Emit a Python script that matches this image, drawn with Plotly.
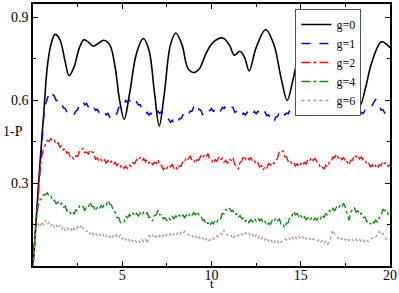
import plotly.graph_objects as go

# time grid for the noisy series (step 0.1 from 0 to 20)
t_grid = [round(i * 0.1, 1) for i in range(201)]

# g=0 : smooth curve (key points)
t_g0 = [0, 0.2, 0.4, 0.6, 0.8, 1.0, 1.24, 1.5, 1.8, 2.02, 2.3, 2.6, 2.85, 3.1, 3.37, 3.65, 3.96,
        4.3, 4.6, 4.85, 5.11, 5.4, 5.8, 6.18, 6.5, 6.8, 7.07, 7.35, 7.7, 8.0, 8.35, 8.68, 9.0,
        9.33, 9.7, 10.1, 10.63, 11.0, 11.28, 11.59, 11.85, 12.11, 12.5, 13.04, 13.5, 13.9, 14.24,
        14.55, 14.85, 15.3, 16.0, 16.7, 17.3, 17.94, 18.31, 18.65, 18.96, 19.52, 20.0]
g0 = [0, 0.19, 0.38, 0.55, 0.72, 0.80, 0.838, 0.82, 0.74, 0.689, 0.72, 0.79, 0.819, 0.81, 0.795,
      0.805, 0.817, 0.80, 0.72, 0.60, 0.531, 0.62, 0.77, 0.823, 0.78, 0.63, 0.507, 0.62, 0.80,
      0.843, 0.80, 0.715, 0.70, 0.715, 0.77, 0.81, 0.825, 0.80, 0.763, 0.777, 0.755, 0.706, 0.79,
      0.856, 0.80, 0.68, 0.599, 0.67, 0.751, 0.81, 0.84, 0.83, 0.77, 0.657, 0.579, 0.65, 0.733,
      0.811, 0.79]

g1 = [0.000, 0.090, 0.180, 0.280, 0.380, 0.470, 0.540, 0.585, 0.605, 0.625,
      0.632, 0.620, 0.614, 0.598, 0.600, 0.586, 0.590, 0.572, 0.570, 0.556,
      0.558, 0.548, 0.553, 0.550, 0.560, 0.566, 0.586, 0.584, 0.594, 0.583,
      0.588, 0.575, 0.581, 0.571, 0.576, 0.563, 0.567, 0.556, 0.561, 0.551,
      0.557, 0.547, 0.552, 0.538, 0.539, 0.532, 0.547, 0.551, 0.574, 0.575,
      0.590, 0.586, 0.599, 0.593, 0.600, 0.591, 0.598, 0.588, 0.594, 0.583,
      0.584, 0.566, 0.564, 0.551, 0.556, 0.546, 0.553, 0.545, 0.557, 0.551,
      0.560, 0.552, 0.559, 0.551, 0.549, 0.531, 0.531, 0.520, 0.527, 0.516,
      0.523, 0.518, 0.534, 0.534, 0.547, 0.542, 0.552, 0.546, 0.560, 0.560,
      0.575, 0.571, 0.583, 0.566, 0.564, 0.548, 0.553, 0.551, 0.566, 0.562,
      0.570, 0.559, 0.564, 0.554, 0.564, 0.561, 0.574, 0.569, 0.579, 0.573,
      0.582, 0.575, 0.574, 0.556, 0.559, 0.549, 0.555, 0.546, 0.553, 0.546,
      0.556, 0.549, 0.559, 0.551, 0.559, 0.551, 0.560, 0.552, 0.560, 0.551,
      0.557, 0.544, 0.547, 0.532, 0.534, 0.522, 0.539, 0.541, 0.557, 0.554,
      0.560, 0.547, 0.553, 0.551, 0.566, 0.564, 0.577, 0.572, 0.582, 0.576,
      0.586, 0.578, 0.587, 0.579, 0.586, 0.578, 0.586, 0.576, 0.581, 0.569,
      0.573, 0.561, 0.562, 0.546, 0.549, 0.540, 0.554, 0.552, 0.566, 0.563,
      0.576, 0.573, 0.586, 0.582, 0.593, 0.586, 0.588, 0.572, 0.573, 0.561,
      0.565, 0.553, 0.557, 0.545, 0.555, 0.551, 0.564, 0.561, 0.569, 0.571,
      0.581, 0.592, 0.604, 0.586, 0.579, 0.564, 0.566, 0.554, 0.559, 0.549,
      0.555]

g2 = [0.000, 0.090, 0.180, 0.270, 0.350, 0.400, 0.428, 0.438, 0.455, 0.450,
      0.461, 0.451, 0.455, 0.440, 0.446, 0.430, 0.436, 0.420, 0.425, 0.408,
      0.410, 0.390, 0.393, 0.385, 0.399, 0.396, 0.415, 0.416, 0.427, 0.410,
      0.412, 0.405, 0.420, 0.413, 0.410, 0.386, 0.391, 0.380, 0.387, 0.376,
      0.385, 0.373, 0.382, 0.371, 0.379, 0.367, 0.375, 0.363, 0.372, 0.359,
      0.366, 0.353, 0.361, 0.351, 0.365, 0.360, 0.375, 0.370, 0.385, 0.380,
      0.393, 0.381, 0.389, 0.377, 0.385, 0.372, 0.379, 0.366, 0.375, 0.371,
      0.385, 0.365, 0.365, 0.347, 0.360, 0.353, 0.366, 0.359, 0.367, 0.353,
      0.360, 0.347, 0.363, 0.361, 0.380, 0.377, 0.393, 0.387, 0.399, 0.383,
      0.387, 0.372, 0.385, 0.383, 0.399, 0.391, 0.403, 0.395, 0.407, 0.385,
      0.385, 0.371, 0.385, 0.379, 0.392, 0.383, 0.390, 0.375, 0.382, 0.371,
      0.387, 0.382, 0.393, 0.367, 0.363, 0.350, 0.375, 0.380, 0.399, 0.387,
      0.395, 0.384, 0.393, 0.378, 0.382, 0.367, 0.373, 0.358, 0.363, 0.348,
      0.360, 0.355, 0.371, 0.365, 0.377, 0.370, 0.383, 0.390, 0.415, 0.413,
      0.417, 0.395, 0.395, 0.378, 0.383, 0.369, 0.375, 0.362, 0.370, 0.359,
      0.371, 0.363, 0.375, 0.369, 0.385, 0.380, 0.393, 0.381, 0.389, 0.377,
      0.375, 0.353, 0.357, 0.351, 0.365, 0.359, 0.375, 0.375, 0.395, 0.392,
      0.405, 0.391, 0.397, 0.384, 0.393, 0.375, 0.378, 0.365, 0.383, 0.383,
      0.401, 0.395, 0.401, 0.387, 0.395, 0.383, 0.385, 0.367, 0.371, 0.359,
      0.367, 0.355, 0.364, 0.353, 0.367, 0.363, 0.379, 0.371, 0.375, 0.360,
      0.368]

g4 = [0.000, 0.090, 0.180, 0.220, 0.240, 0.243, 0.259, 0.258, 0.265, 0.253,
      0.255, 0.236, 0.238, 0.225, 0.232, 0.221, 0.227, 0.212, 0.217, 0.199,
      0.203, 0.190, 0.198, 0.187, 0.203, 0.200, 0.217, 0.210, 0.215, 0.200,
      0.215, 0.213, 0.231, 0.215, 0.215, 0.199, 0.212, 0.205, 0.218, 0.211,
      0.225, 0.221, 0.237, 0.223, 0.220, 0.199, 0.195, 0.175, 0.175, 0.157,
      0.163, 0.160, 0.180, 0.175, 0.187, 0.179, 0.191, 0.181, 0.191, 0.181,
      0.191, 0.183, 0.195, 0.187, 0.193, 0.175, 0.177, 0.163, 0.183, 0.185,
      0.202, 0.185, 0.187, 0.170, 0.175, 0.163, 0.175, 0.167, 0.179, 0.171,
      0.182, 0.173, 0.184, 0.175, 0.185, 0.175, 0.186, 0.178, 0.190, 0.182,
      0.194, 0.185, 0.197, 0.185, 0.185, 0.165, 0.167, 0.150, 0.157, 0.145,
      0.158, 0.152, 0.165, 0.159, 0.173, 0.170, 0.190, 0.188, 0.205, 0.199,
      0.210, 0.198, 0.201, 0.185, 0.189, 0.175, 0.183, 0.170, 0.175, 0.161,
      0.168, 0.157, 0.168, 0.160, 0.172, 0.163, 0.173, 0.163, 0.170, 0.155,
      0.161, 0.147, 0.155, 0.150, 0.165, 0.160, 0.173, 0.163, 0.171, 0.150,
      0.153, 0.139, 0.155, 0.157, 0.180, 0.181, 0.197, 0.185, 0.190, 0.175,
      0.182, 0.170, 0.179, 0.167, 0.175, 0.164, 0.173, 0.163, 0.173, 0.165,
      0.178, 0.171, 0.185, 0.175, 0.189, 0.185, 0.201, 0.195, 0.208, 0.200,
      0.213, 0.207, 0.221, 0.214, 0.227, 0.213, 0.190, 0.165, 0.195, 0.205,
      0.211, 0.195, 0.200, 0.185, 0.191, 0.175, 0.177, 0.160, 0.163, 0.151,
      0.163, 0.155, 0.167, 0.158, 0.175, 0.180, 0.205, 0.200, 0.203, 0.187,
      0.195]

g6 = [0.000, 0.090, 0.145, 0.152, 0.140, 0.160, 0.148, 0.165, 0.150, 0.158,
      0.145, 0.155, 0.140, 0.150, 0.136, 0.148, 0.133, 0.143, 0.128, 0.140,
      0.130, 0.138, 0.124, 0.135, 0.128, 0.142, 0.135, 0.150, 0.135, 0.128,
      0.124, 0.130, 0.116, 0.125, 0.112, 0.120, 0.110, 0.118, 0.108, 0.116,
      0.104, 0.112, 0.100, 0.108, 0.098, 0.110, 0.102, 0.114, 0.104, 0.112,
      0.098, 0.106, 0.094, 0.102, 0.090, 0.098, 0.088, 0.096, 0.086, 0.094,
      0.085, 0.096, 0.088, 0.098, 0.082, 0.110, 0.104, 0.114, 0.100, 0.108,
      0.100, 0.110, 0.102, 0.112, 0.104, 0.114, 0.106, 0.116, 0.108, 0.118,
      0.110, 0.120, 0.112, 0.122, 0.116, 0.126, 0.118, 0.114, 0.108, 0.112,
      0.102, 0.110, 0.098, 0.106, 0.094, 0.102, 0.090, 0.098, 0.088, 0.095,
      0.090, 0.100, 0.098, 0.110, 0.106, 0.118, 0.114, 0.130, 0.118, 0.110,
      0.104, 0.110, 0.098, 0.108, 0.102, 0.112, 0.106, 0.116, 0.110, 0.120,
      0.112, 0.118, 0.106, 0.114, 0.102, 0.112, 0.100, 0.110, 0.098, 0.106,
      0.094, 0.102, 0.090, 0.098, 0.086, 0.094, 0.082, 0.090, 0.078, 0.088,
      0.090, 0.098, 0.094, 0.104, 0.096, 0.106, 0.098, 0.108, 0.096, 0.106,
      0.098, 0.106, 0.094, 0.102, 0.092, 0.100, 0.090, 0.098, 0.094, 0.088,
      0.094, 0.084, 0.092, 0.082, 0.090, 0.078, 0.086, 0.110, 0.130, 0.115,
      0.108, 0.100, 0.106, 0.096, 0.104, 0.094, 0.102, 0.092, 0.100, 0.096,
      0.090, 0.098, 0.088, 0.096, 0.086, 0.094, 0.084, 0.092, 0.088, 0.096,
      0.100, 0.108, 0.104, 0.116, 0.124, 0.112, 0.118, 0.104, 0.096, 0.100,
      0.094]

x_ticks = [5, 10, 15, 20]
y_ticks = [0.3, 0.6, 0.9]

FONT = "Liberation Serif, Times New Roman, serif"

fig = go.Figure()
fig.add_trace(go.Scatter(x=t_g0, y=g0, mode="lines", name="g=0",
                         line=dict(color="black", width=1.6, shape="spline", smoothing=1.0)))
fig.add_trace(go.Scatter(x=t_grid, y=g1, mode="lines", name="g=1",
                         line=dict(color="#0000ff", width=1.5, dash="dash")))
fig.add_trace(go.Scatter(x=t_grid, y=g2, mode="lines", name="g=2",
                         line=dict(color="#ff0000", width=1.3, dash="dashdot")))
fig.add_trace(go.Scatter(x=t_grid, y=g4, mode="lines", name="g=4",
                         line=dict(color="#008c00", width=1.3, dash="dashdot")))
fig.add_trace(go.Scatter(x=t_grid, y=g6, mode="lines", name="g=6",
                         line=dict(color="#bc8f8f", width=1.3, dash="dot")))

axis_common = dict(showline=True, linecolor="black", linewidth=1.5, mirror="allticks",
                   ticks="inside", ticklen=5, tickwidth=1, tickcolor="black",
                   showgrid=False, zeroline=False, ticklabeloverflow="allow",
                   tickfont=dict(family=FONT, size=14, color="black"))

fig.update_xaxes(range=[0, 20], tickvals=x_ticks, ticktext=[str(v) for v in x_ticks],
                 ticklabelstandoff=-5,
                 minor=dict(ticks="inside", tickvals=[2.5, 7.5, 12.5, 17.5], ticklen=3,
                            tickcolor="black"),
                 **axis_common)
fig.update_yaxes(range=[0, 0.948], tickvals=y_ticks, ticktext=[str(v) for v in y_ticks],
                 minor=dict(ticks="inside", tickvals=[0.15, 0.45, 0.75], ticklen=3,
                            tickcolor="black"),
                 **axis_common)

fig.update_layout(
    width=399, height=293,
    margin=dict(l=33, r=7, t=2, b=27),
    paper_bgcolor="white", plot_bgcolor="white",
    showlegend=True,
    legend=dict(x=0.735, y=0.981, xanchor="left", yanchor="top",
                bgcolor="white", bordercolor="#555555", borderwidth=1,
                font=dict(family=FONT, size=12, color="black"),
                itemwidth=30, tracegroupgap=0),
    annotations=[
        dict(text="t", xref="x", yref="paper", x=10, y=-0.102, showarrow=False,
             xanchor="center", yanchor="bottom", font=dict(family=FONT, size=13, color="black")),
        dict(text="1-P", xref="paper", yref="y", x=-0.055, y=0.486, showarrow=False,
             xanchor="center", yanchor="middle", font=dict(family=FONT, size=14, color="black")),
    ],
)

fig.write_html("out.html", config={"displayModeBar": False},
               post_script="document.body.style.margin='0';document.body.style.overflow='hidden';")
